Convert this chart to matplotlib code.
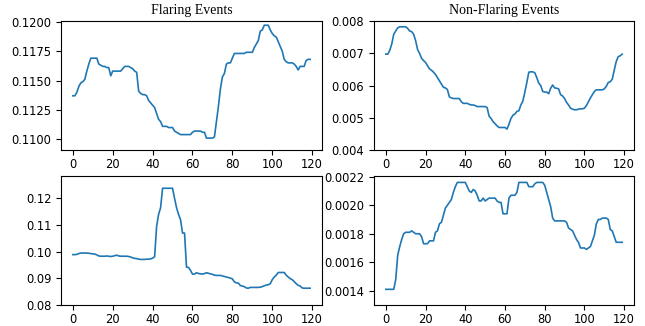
import matplotlib
matplotlib.use("Agg")
import matplotlib.pyplot as plt
import numpy as np

steps = list(range(120))

flaring_top = [
    0.1137, 0.1137, 0.1140, 0.1145, 0.1148, 0.1149, 0.1151, 0.1158, 0.1164, 0.1169,
    0.1169, 0.1169, 0.1169, 0.1164, 0.1163, 0.1162, 0.1162, 0.1161, 0.1161, 0.1154,
    0.1158, 0.1158, 0.1158, 0.1158, 0.1158, 0.1160, 0.1162, 0.1162, 0.1162, 0.1161,
    0.1160, 0.1158, 0.1157, 0.1141, 0.1139, 0.1138, 0.1138, 0.1137, 0.1133, 0.1131,
    0.1129, 0.1127, 0.1122, 0.1117, 0.1115, 0.1111, 0.1111, 0.1111, 0.1110, 0.1110,
    0.1110, 0.1107, 0.1106, 0.1105, 0.1104, 0.1104, 0.1104, 0.1104, 0.1104, 0.1104,
    0.1106, 0.1107, 0.1107, 0.1107, 0.1107, 0.1106, 0.1106, 0.1101, 0.1101, 0.1101,
    0.1101, 0.1102, 0.1115, 0.1128, 0.1143, 0.1153, 0.1156, 0.1164, 0.1165, 0.1165,
    0.1169, 0.1173, 0.1173, 0.1173, 0.1173, 0.1173, 0.1173, 0.1174, 0.1174, 0.1174,
    0.1174, 0.1178, 0.1181, 0.1184, 0.1192, 0.1193, 0.1197, 0.1197, 0.1197, 0.1193,
    0.1190, 0.1188, 0.1187, 0.1183, 0.1179, 0.1175, 0.1168, 0.1166, 0.1165, 0.1165,
    0.1165, 0.1164, 0.1162, 0.1159, 0.1162, 0.1162, 0.1162, 0.1167, 0.1168, 0.1168,
]

nonflaring_top = [
    0.00698, 0.00698, 0.00710, 0.00730, 0.00760, 0.00770, 0.00780, 0.00783, 0.00783, 0.00783,
    0.00783, 0.00778, 0.00770, 0.00768, 0.00760, 0.00740, 0.00712, 0.00700, 0.00685, 0.00678,
    0.00672, 0.00662, 0.00652, 0.00648, 0.00642, 0.00635, 0.00625, 0.00615, 0.00605, 0.00595,
    0.00593, 0.00588, 0.00565, 0.00562, 0.00560, 0.00560, 0.00560, 0.00560, 0.00550, 0.00545,
    0.00545, 0.00545, 0.00542, 0.00540, 0.00540, 0.00538, 0.00535, 0.00535, 0.00535, 0.00535,
    0.00535, 0.00532, 0.00505, 0.00498, 0.00488, 0.00482, 0.00475, 0.00470, 0.00470, 0.00470,
    0.00470, 0.00465, 0.00480, 0.00498, 0.00508, 0.00512, 0.00520, 0.00522, 0.00540, 0.00552,
    0.00580, 0.00610, 0.00642, 0.00643, 0.00643, 0.00640, 0.00625, 0.00608, 0.00600, 0.00582,
    0.00580, 0.00580, 0.00575, 0.00592, 0.00602, 0.00593, 0.00592, 0.00590, 0.00572, 0.00568,
    0.00560, 0.00548, 0.00540, 0.00530, 0.00527, 0.00525, 0.00525, 0.00527, 0.00528, 0.00528,
    0.00530, 0.00538, 0.00550, 0.00562, 0.00572, 0.00582, 0.00587, 0.00587, 0.00587, 0.00587,
    0.00590, 0.00598, 0.00610, 0.00612, 0.00620, 0.00648, 0.00675, 0.00690, 0.00693, 0.00698,
]

flaring_bottom = [
    0.0989, 0.0989, 0.0990, 0.0993, 0.0995, 0.0995, 0.0995, 0.0995, 0.0994, 0.0993,
    0.0992, 0.0991, 0.0988, 0.0984, 0.0983, 0.0983, 0.0983, 0.0984, 0.0983, 0.0982,
    0.0983, 0.0985, 0.0987, 0.0984, 0.0983, 0.0983, 0.0983, 0.0983, 0.0982, 0.0980,
    0.0977, 0.0975, 0.0974, 0.0972, 0.0971, 0.0971, 0.0971, 0.0972, 0.0972, 0.0973,
    0.0976, 0.0981, 0.1095, 0.1140, 0.1165, 0.1238, 0.1238, 0.1238, 0.1238, 0.1238,
    0.1238, 0.1200, 0.1165, 0.1140, 0.1120, 0.1070, 0.1070, 0.0942, 0.0941, 0.0930,
    0.0916, 0.0916, 0.0921, 0.0918, 0.0917, 0.0916, 0.0918, 0.0921, 0.0919, 0.0917,
    0.0915, 0.0912, 0.0911, 0.0911, 0.0911, 0.0909, 0.0907, 0.0905, 0.0903, 0.0901,
    0.0898, 0.0887, 0.0883, 0.0882, 0.0873, 0.0871, 0.0869, 0.0864, 0.0863, 0.0866,
    0.0866, 0.0866, 0.0866, 0.0866, 0.0867, 0.0869, 0.0872, 0.0875, 0.0876, 0.0880,
    0.0895, 0.0905, 0.0912, 0.0922, 0.0922, 0.0922, 0.0922, 0.0912, 0.0905, 0.0899,
    0.0895, 0.0888, 0.0880, 0.0874, 0.0871, 0.0864, 0.0863, 0.0863, 0.0863, 0.0863,
]

nonflaring_bottom = [
    0.00141, 0.00141, 0.00141, 0.00141, 0.00141, 0.00148, 0.00165, 0.00171, 0.00176, 0.00180,
    0.00181, 0.00181, 0.00181, 0.00182, 0.00181, 0.00180, 0.00180, 0.00180, 0.00178, 0.00173,
    0.00173, 0.00173, 0.00175, 0.00175, 0.00175, 0.00181, 0.00182, 0.00187, 0.00188, 0.00193,
    0.00198, 0.00200, 0.00202, 0.00204, 0.00209, 0.00213, 0.00216, 0.00216, 0.00216, 0.00216,
    0.00216, 0.00213, 0.00210, 0.00209, 0.00211, 0.00210, 0.00207, 0.00203, 0.00203, 0.00205,
    0.00203, 0.00204, 0.00205, 0.00205, 0.00205, 0.00205, 0.00203, 0.00202, 0.00202, 0.00194,
    0.00194, 0.00194, 0.00205, 0.00207, 0.00207, 0.00207, 0.00209, 0.00216, 0.00216, 0.00216,
    0.00216, 0.00216, 0.00213, 0.00213, 0.00213, 0.00215, 0.00216, 0.00216, 0.00216, 0.00216,
    0.00214, 0.00209, 0.00204, 0.00199, 0.00191, 0.00189, 0.00189, 0.00189, 0.00189, 0.00189,
    0.00189, 0.00188, 0.00184, 0.00183, 0.00182, 0.00179, 0.00176, 0.00174, 0.00170, 0.00170,
    0.00170, 0.00169, 0.00170, 0.00171, 0.00175, 0.00179, 0.00187, 0.00190, 0.00190, 0.00191,
    0.00191, 0.00191, 0.00190, 0.00183, 0.00182, 0.00178, 0.00174, 0.00174, 0.00174, 0.00174,
]

titles = ["Flaring Events", "Non-Flaring Events"]
line_color = "#1f77b4"

fig = plt.figure(figsize=(6.45, 3.26), dpi=100)
W, H = 645.0, 326.0

def add_ax(x0, y0, x1, y1):
    return fig.add_axes([x0 / W, 1 - y1 / H, (x1 - x0) / W, (y1 - y0) / H])

ax_tl = add_ax(61, 21, 322, 150)
ax_tr = add_ax(374, 21, 634, 150)
ax_bl = add_ax(61, 176, 322, 305)
ax_br = add_ax(374, 176, 634, 305)

ax_tl.plot(steps, flaring_top, color=line_color, lw=1.2)
ax_tr.plot(steps, nonflaring_top, color=line_color, lw=1.2)
ax_bl.plot(steps, flaring_bottom, color=line_color, lw=1.2)
ax_br.plot(steps, nonflaring_bottom, color=line_color, lw=1.2)

ax_tl.set_ylim(0.10909, 0.12006)
ax_tl.set_yticks([0.1100, 0.1125, 0.1150, 0.1175, 0.1200])
ax_tl.set_yticklabels(["0.1100", "0.1125", "0.1150", "0.1175", "0.1200"])

ax_tr.set_ylim(0.004, 0.00801)
ax_tr.set_yticks([0.004, 0.005, 0.006, 0.007, 0.008])
ax_tr.set_yticklabels(["0.004", "0.005", "0.006", "0.007", "0.008"])

ax_bl.set_ylim(0.08, 0.1284)
ax_bl.set_yticks([0.08, 0.09, 0.10, 0.11, 0.12])
ax_bl.set_yticklabels(["0.08", "0.09", "0.10", "0.11", "0.12"])

ax_br.set_ylim(0.0013, 0.002205)
ax_br.set_yticks([0.0014, 0.0016, 0.0018, 0.0020, 0.0022])
ax_br.set_yticklabels(["0.0014", "0.0016", "0.0018", "0.0020", "0.0022"])

for ax in (ax_tl, ax_tr, ax_bl, ax_br):
    ax.set_xlim(-5.95, 124.95)
    ax.set_xticks([0, 20, 40, 60, 80, 100, 120])
    ax.tick_params(labelsize=8.3, length=3.5, width=0.8)
    ax.tick_params(axis="x", pad=2.2)
    for s in ax.spines.values():
        s.set_linewidth(0.8)

ax_tl.set_title(titles[0], fontfamily="Liberation Serif", fontsize=10, pad=5)
ax_tr.set_title(titles[1], fontfamily="Liberation Serif", fontsize=10, pad=5)

fig.savefig("out.png", dpi=100)
